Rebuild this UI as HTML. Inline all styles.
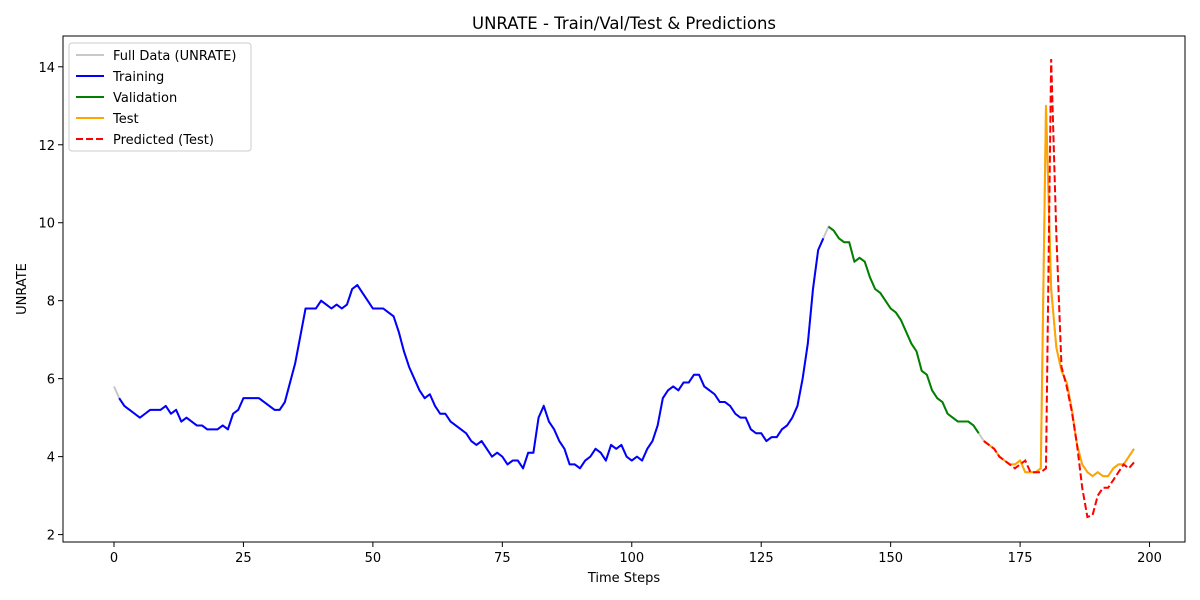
<!DOCTYPE html>
<html><head><meta charset="utf-8"><style>
body{margin:0;background:#fff;}
svg{display:block;font-family:"DejaVu Sans","Liberation Sans",sans-serif;}
</style></head><body>
<svg id="chart" width="1200" height="600">
<rect width="1200" height="600" fill="#fff"/>
</svg>
<script>
const xTicks=[0,25,50,75,100,125,150,175,200];
const yTicks=[2,4,6,8,10,12,14];
const firstValue=[5.8];
const trainStart=1;
const trainVals=[5.5,5.3,5.2,5.1,5.0,5.1,5.2,5.2,5.2,5.3,5.1,5.2,4.9,5.0,4.9,4.8,4.8,4.7,4.7,4.7,4.8,4.7,5.1,5.2,5.5,5.5,5.5,5.5,5.4,5.3,5.2,5.2,5.4,5.9,6.4,7.1,7.8,7.8,7.8,8.0,7.9,7.8,7.9,7.8,7.9,8.3,8.4,8.2,8.0,7.8,7.8,7.8,7.7,7.6,7.2,6.7,6.3,6.0,5.7,5.5,5.6,5.3,5.1,5.1,4.9,4.8,4.7,4.6,4.4,4.3,4.4,4.2,4.0,4.1,4.0,3.8,3.9,3.9,3.7,4.1,4.1,5.0,5.3,4.9,4.7,4.4,4.2,3.8,3.8,3.7,3.9,4.0,4.2,4.1,3.9,4.3,4.2,4.3,4.0,3.9,4.0,3.9,4.2,4.4,4.8,5.5,5.7,5.8,5.7,5.9,5.9,6.1,6.1,5.8,5.7,5.6,5.4,5.4,5.3,5.1,5.0,5.0,4.7,4.6,4.6,4.4,4.5,4.5,4.7,4.8,5.0,5.3,6.0,6.9,8.3,9.3,9.6];
const valStart=138;
const valVals=[9.9,9.8,9.6,9.5,9.5,9.0,9.1,9.0,8.6,8.3,8.2,8.0,7.8,7.7,7.5,7.2,6.9,6.7,6.2,6.1,5.7,5.5,5.4,5.1,5.0,4.9,4.9,4.9,4.8,4.6];
const testStart=168;
const testVals=[4.4,4.3,4.2,4.0,3.9,3.8,3.8,3.9,3.6,3.6,3.6,3.7,13.0,8.3,6.8,6.2,5.9,5.2,4.3,3.8,3.6,3.5,3.6,3.5,3.5,3.7,3.8,3.8,4.0,4.2];
const predVals=[4.4,4.3,4.2,4.0,3.9,3.8,3.7,3.8,3.9,3.6,3.6,3.6,3.7,14.2,9.7,6.3,5.8,5.15,4.3,3.2,2.45,2.5,3.0,3.2,3.2,3.4,3.6,3.8,3.7,3.85];

const L=63,R=1185,T=36,B=542;
const xMin=-9.85,xMax=206.85,yMin=1.81,yMax=14.79;
const X=v=>L+(v-xMin)/(xMax-xMin)*(R-L);
const Y=v=>B-(v-yMin)/(yMax-yMin)*(B-T);
const NS="http://www.w3.org/2000/svg";
const svg=document.getElementById('chart');
function mk(tag,attrs,parent){const e=document.createElementNS(NS,tag);for(const k in attrs)e.setAttribute(k,attrs[k]);(parent||svg).appendChild(e);return e;}
function pts(vals,start){return vals.map((v,i)=>X(start+i).toFixed(2)+','+Y(v).toFixed(2)).join(' ');}

const fullData=firstValue.concat(trainVals,valVals,testVals);
const gFull=mk('polyline',{points:pts(fullData,0),fill:'none',stroke:'#c8c8c8','stroke-width':2});


const gTrain=mk('polyline',{points:pts(trainVals,trainStart),fill:'none',stroke:'#0000ff','stroke-width':2,'stroke-linejoin':'round'});


const gVal=mk('polyline',{points:pts(valVals,valStart),fill:'none',stroke:'#008000','stroke-width':2,'stroke-linejoin':'round'});


const gTest=mk('polyline',{points:pts(testVals,testStart),fill:'none',stroke:'#ffa500','stroke-width':2,'stroke-linejoin':'round'});


const gPred=mk('polyline',{points:pts(predVals,testStart),fill:'none',stroke:'#ff0000','stroke-width':2,'stroke-dasharray':'7,3'});



const frame=mk('rect',{x:L,y:T,width:R-L,height:B-T,fill:'none',stroke:'#000','stroke-width':1});



xTicks.forEach(t=>{
  const x=X(t);
  mk('line',{x1:x,x2:x,y1:B,y2:B+5,stroke:'#000'});
  const tx=mk('text',{x:x,y:B+20,'text-anchor':'middle','font-size':13});
  tx.textContent=t;
  
  
});
yTicks.forEach(t=>{
  const y=Y(t);
  mk('line',{x1:L-5,x2:L,y1:y,y2:y,stroke:'#000'});
  const tx=mk('text',{x:L-8,y:y+5,'text-anchor':'end','font-size':13});
  tx.textContent=t;
  
  
});
const title=mk('text',{x:(L+R)/2,y:29,'text-anchor':'middle','font-size':16.5});
title.textContent='UNRATE - Train/Val/Test & Predictions';


const xl=mk('text',{x:(L+R)/2,y:582,'text-anchor':'middle','font-size':13});
xl.textContent='Time Steps';


const yl=mk('text',{x:0,y:0,'text-anchor':'middle','font-size':13,transform:'translate(26,'+((T+B)/2)+') rotate(-90)'});
yl.textContent='UNRATE';



const lg=mk('g',{});


mk('rect',{x:69,y:43,width:182,height:108,rx:3,fill:'#fff','fill-opacity':0.8,stroke:'#ccc'},lg);
const entries=[['Full Data (UNRATE)','#c8c8c8',''],['Training','#0000ff',''],['Validation','#008000',''],['Test','#ffa500',''],['Predicted (Test)','#ff0000','7,3']];
entries.forEach((e,i)=>{
  const y=55+i*21;
  const ln=mk('line',{x1:76,x2:104,y1:y,y2:y,stroke:e[1],'stroke-width':2,'stroke-dasharray':e[2]||'none'},lg);
  
  
  const t=mk('text',{x:113,y:y+5,'font-size':13},lg);
  t.textContent=e[0];
  
  
});
</script>
</body></html>
